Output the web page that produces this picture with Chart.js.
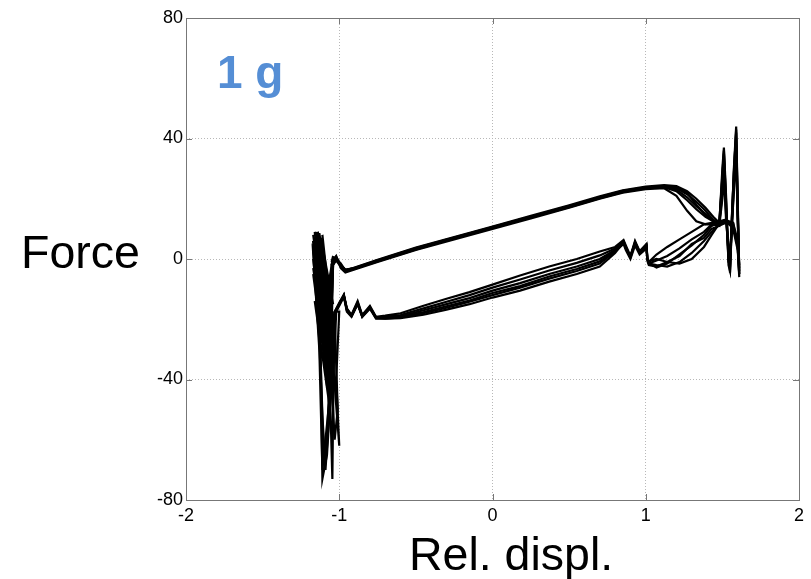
<!DOCTYPE html>
<html>
<head>
<meta charset="utf-8">
<script src="https://cdn.jsdelivr.net/npm/chart.js@4/dist/chart.umd.min.js"></script>
<style>
  html, body { margin: 0; padding: 0; background: #fff; }
  #wrap { position: relative; width: 811px; height: 579px; }
  .lbl { position: absolute; font-family: "Liberation Sans", Arial, sans-serif; line-height: 1; white-space: nowrap; color: #000; }
  #force { left: 21px; top: 229px; font-size: 46.5px; }
  #displ { left: 409px; top: 531px; font-size: 46.5px; }
  #tag { left: 217px; top: 49px; font-size: 46px; font-weight: bold; color: #558ed5; }
</style>
</head>
<body>
<div id="wrap">
  <canvas id="chart" width="811" height="579"></canvas>
  <div class="lbl" id="force">Force</div>
  <div class="lbl" id="displ">Rel. displ.</div>
  <div class="lbl" id="tag">1 g</div>
</div>
<script>
// axis ticks
const xTicks = [-2, -1, 0, 1, 2];
const yTicks = [-80, -40, 0, 40, 80];

// upper branch (left -> right), one y list per cycle
const upperX  = [-1.05, -1.02, -0.99, -0.96, -0.9, -0.75, -0.5, -0.25, 0, 0.25, 0.5, 0.7, 0.85, 1.0, 1.12, 1.2, 1.27, 1.33, 1.39, 1.44, 1.48];
const upperY1 = [-2, 0.5, -2, -3.5, -3, -0.5, 3.5, 7, 10.5, 14, 17.5, 20.5, 22.5, 23.5, 24, 23.5, 21.5, 19, 16, 13, 11.5];
const upperY2 = [-3, 0, -1.5, -4, -3.2, -0.8, 3.2, 6.8, 10.2, 13.8, 17.2, 20.2, 22.2, 23.5, 23.8, 22.5, 19.5, 16.5, 14, 12.5, 11.5];
const upperY3 = [-1, 1, -3, -4.5, -3.5, -1, 3, 6.5, 10, 13.5, 17, 20, 22, 23.2, 23.5, 21, 16, 12.5, 11.5, 11.5, 11];
const upperY4 = [-2.5, -0.5, -2.5, -3.8, -2.8, -0.3, 3.8, 7.3, 10.8, 14.3, 17.8, 20.8, 22.8, 24, 24.5, 24.2, 22.5, 20, 17, 14, 12];
const upperY5 = [-1.5, 0.8, -2.2, -4, -3.3, -0.6, 3.4, 6.9, 10.4, 13.9, 17.4, 20.4, 22.4, 23.6, 24.2, 23.8, 22, 18, 14.5, 12.5, 11.8];
const upperY6 = [-2.8, 0.2, -1.8, -3.6, -3, -0.4, 3.6, 7.1, 10.6, 14.1, 17.6, 20.6, 22.6, 23.8, 23.9, 23, 20.5, 17.5, 15, 13, 11.6];

// spikes at the right end
const rightX  = [1.48, 1.5, 1.51, 1.525, 1.54, 1.55, 1.56, 1.575, 1.59, 1.6, 1.61, 1.6, 1.57, 1.52, 1.48];
const rightY1 = [11.5, 30, 37, 20, -2, -4, 10, 30, 44, 20, -6, 4, 12, 13, 12];
const rightY2 = [11.5, 25, 33, 15, 0, -3, 8, 25, 40, 15, -4, 5, 11, 12, 11.5];
const rightY3 = [11, 20, 28, 12, 4, 2, 10, 22, 35, 12, -2, 6, 12, 12, 11];
const rightY4 = [12, 28, 36, 18, 1, -4.5, 12, 28, 43, 18, -5, 3, 10, 13, 12.5];
const rightY5 = [11.8, 22, 30, 14, 2, 0, 9, 26, 38, 14, -3, 5, 11, 12.5, 11.8];
const rightY6 = [11.6, 27, 35, 17, -1, -2, 11, 29, 42, 17, -5, 4, 11, 12.5, 12];

// lower branch (right -> left)
const lowerX  = [1.48, 1.43, 1.38, 1.3, 1.22, 1.14, 1.07, 1.02, 1.01, 1.005, 0.96, 0.93, 0.9, 0.87, 0.855, 0.8, 0.7, 0.55, 0.37, 0.18, 0, -0.15, -0.3, -0.45, -0.6, -0.7, -0.76, -0.8, -0.85, -0.88, -0.92, -0.95, -0.97, -1.0, -1.03];
const lowerY1 = [12, 12, 11.5, 9, 6.5, 4, 1.5, -1, 0.3, 4.6, 2.3, 5.6, 0.7, 4, 6, 3, 0, -2.5, -5, -8, -10.5, -13, -15, -17, -19, -19.3, -19.5, -16, -19, -14.6, -19, -17, -12, -15, -18];
const lowerY2 = [11.5, 9, 6, 2, -1, -2.5, -2, -1.5, 0, 4, 2, 5, 1, 3.5, 5.5, 2, -2.5, -5, -7.5, -10.5, -12.8, -15, -16.8, -18.5, -19.6, -19.8, -19.8, -16.5, -19.2, -15, -19.2, -17.5, -12.5, -15.5, -18.5];
const lowerY3 = [11, 10, 7, 5, 1, -1, -2.5, -2, -0.5, 3.5, 1.5, 4.5, 0, 3, 5, 2.5, -1.5, -4, -6.5, -9.5, -12, -14.2, -16.2, -18, -19.4, -19.8, -19.6, -16.2, -18.8, -14.4, -18.6, -16.5, -12.3, -14.8, -17.5];
const lowerY4 = [12.5, 11.5, 9, 6.5, 3.5, 1, -0.5, -1.5, 0.5, 5, 2.6, 6, 1, 4.5, 6.3, 4, 2.5, 0, -2.5, -5.5, -8.5, -11, -13.2, -15.5, -18, -18.8, -19.2, -15.6, -18.6, -14, -18.6, -16.5, -11.8, -14.5, -17.6];
const lowerY5 = [11.8, 8, 4, 0, -1.5, -1, 0, -0.8, 0.2, 4.2, 2.1, 5.2, 0.5, 3.8, 5.8, 3.5, 1.2, -1.3, -3.8, -6.8, -9.5, -12, -14.2, -16.4, -18.6, -19.1, -19.4, -16.2, -19.1, -14.8, -18.9, -17.2, -12.2, -15.2, -18.2];
const lowerY6 = [12, 11, 8, 4.5, 1.5, -1.5, -2.8, -1.2, 0.4, 4.4, 2.4, 5.4, 0.8, 3.6, 5.7, 2.8, -0.8, -3.3, -5.8, -9, -11.3, -13.8, -15.7, -17.6, -19.2, -19.5, -19.6, -15.8, -18.9, -14.8, -18.8, -16.8, -12.1, -15.1, -17.8];

// impact bursts at the left end
const leftX1 = [-1.03, -1.05, -1.08, -1.11, -1.12, -1.17, -1.05, -1.15, -1.04, -1.16, -1.06, -1.13, -1.04, -1.14, -1.07, -1.17, -1.05, -1.12, -1.08, -1.16, -1.04, -1.11, -1.06, -1.15, -1.09, -1.13, -1.05, -1.07, -1.04, -1.05];
const leftY1 = [-18, -40, -65, -73, -35, 4, -30, 8, -38, 6, -45, 5, -20, 9, -30, 3, -35, 7, -42, 2, -25, 8, -30, 5, -15, -2, -45, -10, 0, -2];
const leftX2 = [-1.03, -1.04, -1.045, -1.06, -1.1, -1.13, -1.17, -1.05, -1.14, -1.06, -1.16, -1.04, -1.12, -1.07, -1.15, -1.05, -1.13, -1.08, -1.17, -1.04, -1.11, -1.06, -1.16, -1.05, -1.12, -1.08, -1.14, -1.06, -1.04, -1.05];
const leftY2 = [-18.5, -50, -73, -45, -20, -10, 3, -25, 9, -35, 7, -15, 5, -28, 8, -38, 2, -30, 6, -40, 4, -22, 7, -33, 3, -26, -6, -30, -2, -3];
const leftX3 = [-1.0, -1.02, -1.0, -1.04, -1.08, -1.11, -1.13, -1.17, -1.04, -1.13, -1.06, -1.16, -1.05, -1.12, -1.04, -1.15, -1.07, -1.14, -1.05, -1.17, -1.06, -1.11, -1.04, -1.15, -1.07, -1.13, -1.05, -1.08, -1.04, -1.05];
const leftY3 = [-17.5, -40, -62, -35, -55, -70, -30, 2, -22, 8.6, -25, 6, -12, 7, -30, -8, -40, 0, -28, 5, -36, 3, -20, 6, -32, -4, -38, -12, 1, -1];
const leftX4 = [-1.03, -1.06, -1.08, -1.1, -1.12, -1.14, -1.17, -1.05, -1.15, -1.04, -1.13, -1.06, -1.16, -1.05, -1.12, -1.07, -1.17, -1.04, -1.14, -1.06, -1.16, -1.05, -1.11, -1.04, -1.15, -1.06, -1.13, -1.05, -1.04, -1.05];
const leftY4 = [-17.6, -35, -60, -66, -40, -15, 0, -30, 5, -25, 6, -40, 4, -20, 3, -44, -5, -32, 8, -36, 1, -18, 4, -28, 7, -48, -8, -25, 0, -2.5];
const leftX5 = [-1.02, -1.04, -1.07, -1.09, -1.11, -1.13, -1.15, -1.17, -1.05, -1.14, -1.04, -1.16, -1.06, -1.12, -1.05, -1.15, -1.07, -1.13, -1.04, -1.17, -1.06, -1.14, -1.05, -1.11, -1.04, -1.16, -1.06, -1.08, -1.04, -1.05];
const leftY5 = [-18.2, -38, -55, -70, -52, -20, -5, 6, -32, 7, -28, 9, -38, 4, -24, 6, -45, 2, -30, -3, -40, 8, -22, 5, -35, -14, -50, -20, -1, -2];
const leftX6 = [-1.03, -1.02, -1.01, -1.03, -1.06, -1.09, -1.12, -1.16, -1.1, -1.04, -1.15, -1.05, -1.13, -1.06, -1.17, -1.04, -1.14, -1.07, -1.16, -1.05, -1.12, -1.04, -1.15, -1.06, -1.13, -1.05, -1.1, -1.06, -1.04, -1.05];
const leftY6 = [-17.8, -35, -50, -60, -30, -10, -25, 2, -8, -36, 5, -26, -2, -34, 8, -20, 3, -42, 6, -30, -6, -38, 9, -24, -4, -42, -15, -28, -1, -2.2];

const zip = (xs, ys) => xs.map((x, i) => ({ x, y: ys[i] }));

// one closed loop per cycle: upper -> spikes -> lower -> burst
function cycle(uy, ry, ly, bx, by) {
  return [...zip(upperX, uy), ...zip(rightX, ry), ...zip(lowerX, ly), ...zip(bx, by)];
}

const cycles = [
  cycle(upperY1, rightY1, lowerY1, leftX1, leftY1),
  cycle(upperY2, rightY2, lowerY2, leftX2, leftY2),
  cycle(upperY3, rightY3, lowerY3, leftX3, leftY3),
  cycle(upperY4, rightY4, lowerY4, leftX4, leftY4),
  cycle(upperY5, rightY5, lowerY5, leftX5, leftY5),
  cycle(upperY6, rightY6, lowerY6, leftX6, leftY6),
];

// box + inward tick marks, matlab style
const boxPlugin = {
  id: "box",
  afterDraw(chart) {
    const { ctx, chartArea: a, scales: { x, y } } = chart;
    ctx.save();
    ctx.strokeStyle = "#777";
    ctx.lineWidth = 1;
    ctx.strokeRect(a.left + 0.5, a.top + 0.5, a.right - a.left, a.bottom - a.top);
    ctx.beginPath();
    for (const v of xTicks) {
      const px = Math.round(x.getPixelForValue(v)) + 0.5;
      ctx.moveTo(px, a.bottom); ctx.lineTo(px, a.bottom - 6);
      ctx.moveTo(px, a.top);    ctx.lineTo(px, a.top + 6);
    }
    for (const v of yTicks) {
      const py = Math.round(y.getPixelForValue(v)) + 0.5;
      ctx.moveTo(a.left, py);  ctx.lineTo(a.left + 6, py);
      ctx.moveTo(a.right, py); ctx.lineTo(a.right - 6, py);
    }
    ctx.stroke();
    ctx.restore();
  },
};

const tickFont = { family: "'Liberation Sans', Arial, sans-serif", size: 18 };

new Chart(document.getElementById("chart"), {
  type: "scatter",
  data: {
    datasets: cycles.map((pts) => ({
      data: pts,
      showLine: true,
      borderColor: "#000",
      borderWidth: 2.2,
      pointRadius: 0,
      tension: 0,
      fill: false,
    })),
  },
  options: {
    responsive: false,
    animation: false,
    events: [],
    layout: { padding: { top: 18, right: 12, left: 0, bottom: 0 } },
    plugins: { legend: { display: false }, tooltip: { enabled: false } },
    scales: {
      x: {
        type: "linear",
        min: -2, max: 2,
        afterBuildTicks: (s) => { s.ticks = xTicks.map((v) => ({ value: v })); },
        afterFit: (s) => { s.height = 79; },
        ticks: { font: tickFont, color: "#000", padding: 5, maxRotation: 0 },
        grid: { color: "#b8b8b8", lineWidth: 1, drawTicks: false },
        border: { display: false, dash: [1, 2] },
      },
      y: {
        type: "linear",
        min: -80, max: 80,
        afterBuildTicks: (s) => { s.ticks = yTicks.map((v) => ({ value: v })); },
        afterFit: (s) => { s.width = 186; },
        ticks: { font: tickFont, color: "#000", padding: 3 },
        grid: { color: "#b8b8b8", lineWidth: 1, drawTicks: false },
        border: { display: false, dash: [1, 2] },
      },
    },
  },
  plugins: [boxPlugin],
});
</script>
</body>
</html>
